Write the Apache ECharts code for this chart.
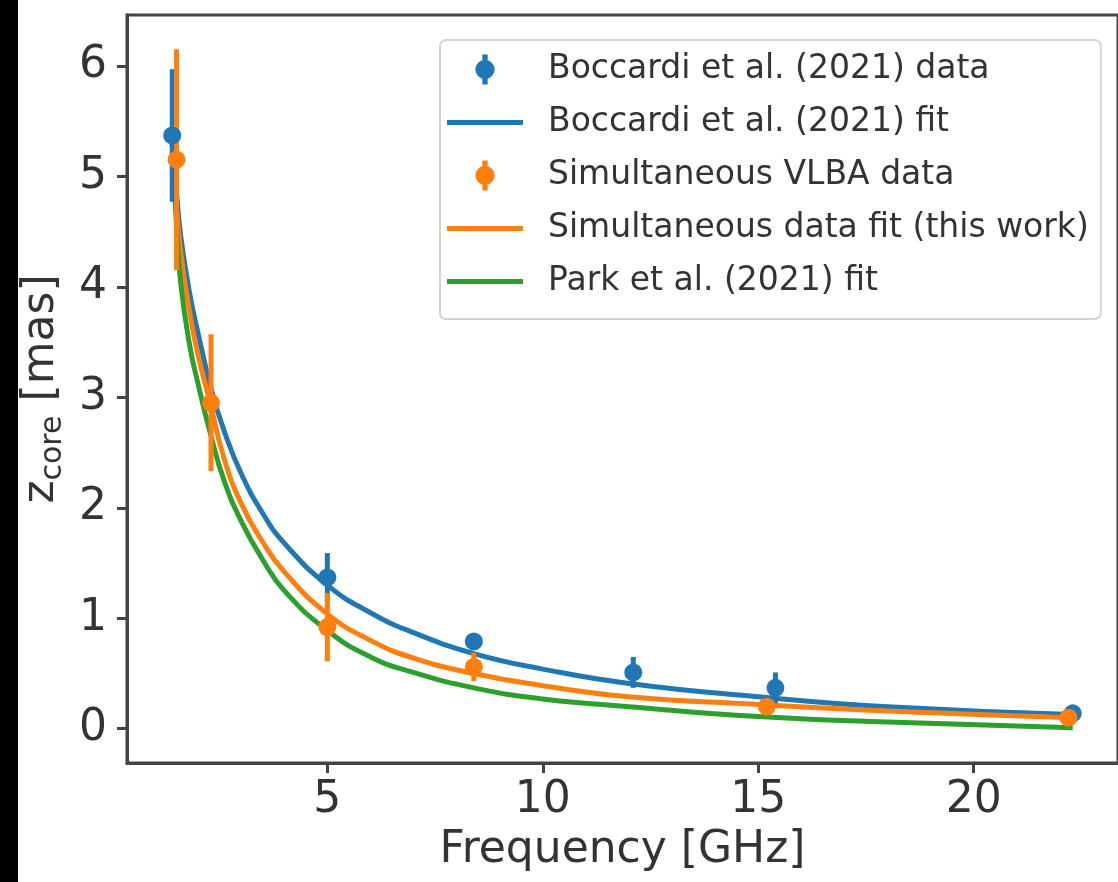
<!DOCTYPE html>
<html>
<head>
    <meta charset="utf-8">
    <title>Core shift vs frequency</title>
    <script src="https://cdn.jsdelivr.net/npm/echarts@6/dist/echarts.min.js"></script>
    <style>
        html, body { margin: 0; padding: 0; background: #fff; }
    </style>
</head>
<body>
    <div id="main" style="width: 1118px;height:882px;"></div>
    <script>
        // measured points: [frequency GHz, z_core mas, error]
        var boccardiData = [
            [1.4, 5.37, 0.60],
            [5.0, 1.37, 0.22],
            [8.4, 0.79, 0.06],
            [12.1, 0.51, 0.14],
            [15.4, 0.37, 0.14],
            [22.3, 0.14, 0.05]
        ];
        var vlbaData = [
            [1.5, 5.15, 1.00],
            [2.3, 2.95, 0.62],
            [5.0, 0.92, 0.31],
            [8.4, 0.56, 0.13],
            [15.2, 0.20, 0.06],
            [22.2, 0.10, 0.04]
        ];

        // fit curves
        var fitFreq = [1.4, 1.5, 1.6, 1.8, 2.0, 2.3, 2.6, 3.0, 3.5, 4.0, 5.0, 6.0, 7.0, 8.4, 10, 12, 15, 18, 22.3];
        var boccardiFit = [5.30, 4.85, 4.45, 3.95, 3.58, 3.08, 2.70, 2.31, 1.95, 1.68, 1.30, 1.05, 0.87, 0.68, 0.54, 0.41, 0.29, 0.20, 0.13];
        var vlbaFit     = [5.30, 4.72, 4.30, 3.78, 3.38, 2.92, 2.45, 2.04, 1.69, 1.42, 1.04, 0.80, 0.64, 0.50, 0.39, 0.29, 0.22, 0.16, 0.10];
        var parkFit     = [5.30, 4.55, 4.02, 3.48, 3.12, 2.65, 2.25, 1.88, 1.53, 1.25, 0.89, 0.65, 0.51, 0.37, 0.27, 0.20, 0.11, 0.06, 0.01];

        var xTicks = [5, 10, 15, 20];
        var yTicks = [0, 1, 2, 3, 4, 5, 6];

        var names = [
            'Boccardi et al. (2021) data',
            'Boccardi et al. (2021) fit',
            'Simultaneous VLBA data',
            'Simultaneous data fit (this work)',
            'Park et al. (2021) fit'
        ];

        var C_BLUE = '#1f77b4', C_ORANGE = '#ff7f0e', C_GREEN = '#2ca02c';
        var FONT = 'DejaVu Sans';

        function pairs(xs, ys) {
            return xs.map(function (x, i) { return [x, ys[i]]; });
        }

        function errorBars(name, data, color) {
            return {
                name: name,
                type: 'custom',
                z: 3,
                data: data,
                renderItem: function (params, api) {
                    var x = api.value(0), y = api.value(1), e = api.value(2);
                    var lo = api.coord([x, y - e]);
                    var hi = api.coord([x, y + e]);
                    return {
                        type: 'line',
                        shape: { x1: lo[0], y1: lo[1], x2: hi[0], y2: hi[1] },
                        style: { stroke: color, lineWidth: 5 }
                    };
                }
            };
        }

        function points(name, data, color) {
            return {
                name: name,
                type: 'scatter',
                z: 4,
                symbol: 'circle',
                symbolSize: 18,
                itemStyle: { color: color, opacity: 1 },
                data: data.map(function (d) { return [d[0], d[1]]; })
            };
        }

        function fitLine(name, ys, color) {
            return {
                name: name,
                type: 'line',
                z: 2,
                showSymbol: false,
                smooth: 0.5,
                itemStyle: { color: color },
                lineStyle: { color: color, width: 5 },
                data: pairs(fitFreq, ys)
            };
        }

        var dataIcon = 'path://M-2.5,-14H2.5V14H-2.5Z M0,-9A9,9 0 1 1 0,9A9,9 0 1 1 0,-9Z';
        var lineIcon = 'path://M0,0H76V5H0Z';

        var axisColor = '#444';

        var myChart = echarts.init(document.getElementById('main'));

        var option = {
            animation: false,
            backgroundColor: '#fff',
            textStyle: { fontFamily: FONT },
            graphic: [{
                type: 'rect',
                left: 0, top: 0,
                shape: { width: 18, height: 882 },
                style: { fill: '#000' }
            }],
            grid: {
                left: 127, top: 15, right: -10, bottom: 119,
                show: true,
                borderColor: axisColor,
                borderWidth: 3
            },
            legend: {
                orient: 'vertical',
                left: 440, top: 40,
                padding: [13, 12, 21, 7],
                itemWidth: 76,
                itemHeight: 30,
                itemGap: 20,
                backgroundColor: 'rgba(255,255,255,0.8)',
                borderColor: '#d3d3d3',
                borderWidth: 2,
                borderRadius: 6,
                symbolKeepAspect: true,
                textStyle: {
                    fontFamily: FONT, fontSize: 33, color: '#333',
                    padding: [0, 0, 0, 20]
                },
                data: [
                    { name: names[0], icon: dataIcon },
                    { name: names[1], icon: lineIcon },
                    { name: names[2], icon: dataIcon },
                    { name: names[3], icon: lineIcon },
                    { name: names[4], icon: lineIcon }
                ]
            },
            xAxis: {
                type: 'value',
                min: 0.35, max: 23.35,
                name: 'Frequency [GHz]',
                nameLocation: 'middle',
                nameGap: 66,
                nameTextStyle: { fontFamily: FONT, fontSize: 44, color: '#333' },
                splitLine: { show: false },
                axisLine: { onZero: false, lineStyle: { color: axisColor, width: 3 } },
                axisTick: { length: 10, lineStyle: { color: axisColor, width: 3 }, customValues: xTicks },
                axisLabel: { customValues: xTicks, fontSize: 44, color: '#333', margin: 16 }
            },
            yAxis: {
                type: 'value',
                min: -0.31, max: 6.46,
                name: '{a|z}{b|core}{a| [mas]}',
                nameLocation: 'middle',
                nameRotate: 90,
                nameGap: 58,
                nameTextStyle: {
                    rich: {
                        a: { fontFamily: FONT, fontSize: 44, color: '#333' },
                        b: { fontFamily: FONT, fontSize: 30, color: '#333', padding: [24, 0, 0, 0] }
                    }
                },
                splitLine: { show: false },
                axisLine: { onZero: false, lineStyle: { color: axisColor, width: 3 } },
                axisTick: { length: 10, lineStyle: { color: axisColor, width: 3 }, customValues: yTicks },
                axisLabel: { customValues: yTicks, fontSize: 44, color: '#333', margin: 20 }
            },
            series: [
                points(names[0], boccardiData, C_BLUE),
                errorBars(names[0], boccardiData, C_BLUE),
                fitLine(names[1], boccardiFit, C_BLUE),
                points(names[2], vlbaData, C_ORANGE),
                errorBars(names[2], vlbaData, C_ORANGE),
                fitLine(names[3], vlbaFit, C_ORANGE),
                fitLine(names[4], parkFit, C_GREEN)
            ]
        };

        myChart.setOption(option);
    </script>
</body>
</html>
